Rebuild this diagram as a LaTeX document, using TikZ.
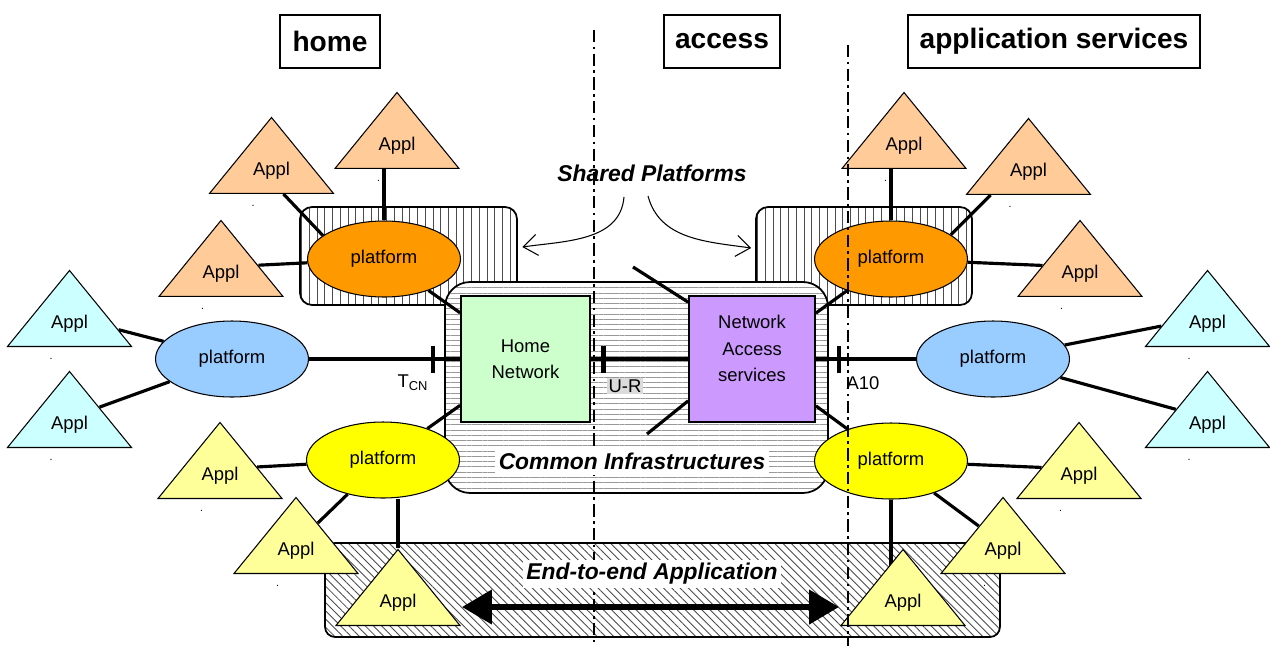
\documentclass[tikz,border=0pt]{standalone}
\usepackage{fontspec}
\setmainfont{Liberation Sans}
\usetikzlibrary{shapes.geometric,patterns.meta,arrows.meta,positioning}
\pgfdeclarelayer{back}
\pgfdeclarelayer{conn}
\pgfsetlayers{back,conn,main}
\definecolor{orangeA}{HTML}{FFCC99}
\definecolor{orangeP}{HTML}{FF9900}
\definecolor{blueA}{HTML}{CCFFFF}
\definecolor{blueP}{HTML}{99CCFF}
\definecolor{yellowA}{HTML}{FFFF99}
\definecolor{yellowP}{HTML}{FFFF00}
\definecolor{homeG}{HTML}{CCFFCC}
\definecolor{accessV}{HTML}{CC99FF}
\tikzset{
  appl/.style={isosceles triangle, shape border rotate=90, isosceles triangle stretches,
    draw, line width=0.6pt, fill=#1, inner sep=0pt, minimum width=2.48cm, minimum height=1.52cm,
    anchor=south, label={[appltxt]south:Appl}, label={[appldot]south:.}},
  appltxt/.style={anchor=center, yshift=0.46cm, font=\fontsize{10.5}{12}\selectfont},
  appldot/.style={anchor=base, xshift=-0.37cm, yshift=-0.24cm, font=\fontsize{6}{6}\selectfont},
  platform/.style={ellipse, draw, line width=0.6pt, fill=#1, inner sep=0pt,
    minimum width=3.06cm, minimum height=1.52cm, font=\fontsize{10.5}{12}\selectfont},
  netbox/.style={draw, line width=1pt, fill=#1, align=center, inner sep=0pt,
    font=\fontsize{10.5}{15}\selectfont},
  hdr/.style={draw, line width=1pt, inner sep=0pt, minimum height=1.06cm,
    font=\fontsize{16}{19}\selectfont\bfseries},
  bigital/.style={font=\fontsize{13}{15}\selectfont\bfseries\itshape},
  iflbl/.style={font=\fontsize{10.5}{12}\selectfont},
  link/.style={line width=1.8pt},
  tickmark/.style={fill=black, inner sep=0pt, minimum width=2.6pt, minimum height=0.54cm},
  vhatch/.style={draw, line width=1pt, rounded corners=0.24cm, inner sep=0pt,
    pattern={Lines[angle=90, distance=4.4pt, line width=0.4pt]}, pattern color=black!70},
  hhatch/.style={draw, line width=1pt, rounded corners=0.5cm, inner sep=0pt, preaction={fill=white},
    pattern={Lines[angle=0, distance=3pt, line width=0.35pt]}, pattern color=black!40},
  dhatch/.style={draw, line width=1pt, rounded corners=0.2cm, inner sep=0pt, preaction={fill=white},
    pattern={Lines[angle=-45, distance=3.3pt, line width=0.5pt]}, pattern color=black!70},
  sepline/.style={line width=0.8pt, dash pattern=on 7pt off 2.5pt on 1.5pt off 2.5pt},
  sparrow/.style={line width=0.6pt, -{Straight Barb[length=8pt, width=12pt]}},
  bigarrow/.style={line width=3.4pt, {Triangle[length=17pt, width=19pt]}-{Triangle[length=17pt, width=19pt]}}
}
\begin{document}
\begin{tikzpicture}[x=0.02cm, y=-0.02cm]
\useasboundingbox (0,0) rectangle (1270,646);

% domains
\node[hdr, minimum width=2cm] (home) at (330,41.5) {home};
\node[hdr, minimum width=2.32cm] (access) at (722,41.5) {access};
\node[hdr, minimum width=5.84cm] (appsvc) at (1054,41.5) {application services};

% hatched areas
\begin{pgfonlayer}{back}
\node[vhatch, minimum width=4.34cm, minimum height=1.96cm] (shl) at (408.5,256) {};
\node[vhatch, minimum width=4.32cm, minimum height=1.96cm] (shr) at (864,256) {};
\node[hhatch, minimum width=7.66cm, minimum height=4.22cm] (ci) at (636.5,387.5) {};
\node[dhatch, minimum width=13.5cm, minimum height=1.88cm] (e2e) at (662.5,590) {};
\end{pgfonlayer}

% networks
\node[netbox=homeG, minimum width=2.58cm, minimum height=2.52cm] (hn) at (525.5,359) {Home\\Network};
\node[netbox=accessV, minimum width=2.52cm, minimum height=2.52cm, text depth=0.42cm] (nas) at (752,359) {Network\\Access\\services};

% platforms
\node[platform=orangeP] (po1) at (384,259) {platform};
\node[platform=orangeP] (po2) at (891,259) {platform};
\node[platform=blueP] (pb1) at (232,359) {platform};
\node[platform=blueP] (pb2) at (993,359) {platform};
\node[platform=yellowP] (py1) at (383,460) {platform};
\node[platform=yellowP] (py2) at (891,461) {platform};

% applications
\node[appl=orangeA] (a1) at (271.5,194) {};
\node[appl=orangeA] (a2) at (397,169) {};
\node[appl=orangeA] (a3) at (221,297) {};
\node[appl=orangeA] (a4) at (904,169) {};
\node[appl=orangeA] (a5) at (1028.5,195) {};
\node[appl=orangeA] (a6) at (1080,297) {};
\node[appl=blueA] (b1) at (69.5,347) {};
\node[appl=blueA] (b2) at (69.5,448) {};
\node[appl=blueA] (b3) at (1207.5,347) {};
\node[appl=blueA] (b4) at (1207.5,448) {};
\node[appl=yellowA] (y1) at (220,499) {};
\node[appl=yellowA] (y2) at (296,574) {};
\node[appl=yellowA] (y3) at (398,626) {};
\node[appl=yellowA] (y4) at (1079,499) {};
\node[appl=yellowA] (y5) at (1003,574) {};
\node[appl=yellowA] (y6) at (903,626) {};

\coordinate (stubA) at (633,267);
\coordinate (stubB) at (647,434);

% links
\begin{pgfonlayer}{conn}
\draw[link] (po1.159) -- ([xshift=.24cm]a1.south);
\draw[link] (po1.north) -- (po1.north |- a2.south);
\draw[link] (po1) -- (a3);
\draw[link] (po1) -- (hn);
\draw[link] (po2.north) -- (po2.north |- a4.south);
\draw[link] (po2.22) -- ([xshift=-.76cm]a5.south);
\draw[link] (po2) -- (a6);
\draw[link] (po2) -- (nas);
\draw[link] (pb1) -- (b1);
\draw[link] (pb1) -- (b2);
\draw[link] (pb2) -- (b3);
\draw[link] (pb2) -- (b4);
\draw[link] (pb1) -- node[tickmark, pos=.82] (tk1) {} (hn);
\draw[link] (hn) -- node[tickmark, pos=.13] (tk2) {} (nas);
\draw[link] (nas) -- node[tickmark, pos=.23] (tk3) {} (pb2);
\draw[link] ([yshift=-.14cm]nas.north west) -- (stubA);
\draw[link] ([yshift=.44cm]nas.south west) -- (stubB);
\draw[link] (py1) -- (hn);
\draw[link] (py1) -- (y1);
\draw[link] (py1) -- (y2);
\draw[link] (py1.south -| y3.north) -- (y3.north);
\draw[link] (py2) -- (nas);
\draw[link] (py2) -- (y4);
\draw[link] (py2) -- (y5);
\draw[link] (py2.south) -- (py2.south |- y6.west);
\end{pgfonlayer}

% domain borders
\draw[sepline] (594,30) -- (594,646);
\draw[sepline] (848,45) -- (848,646);

\node[iflbl] (tcn) at (413,383) {T\textsubscript{CN}};
\node[iflbl, fill=black!14, inner sep=1pt] (ur) at (625,386) {U-R};
\node[iflbl] (a10) at (863,383) {A10};

\node[bigital, fill=white, inner xsep=2pt, inner ysep=3pt] (citext) at (632,461) {Common Infrastructures};
\node[bigital, fill=white, inner sep=2pt] (e2etext) at (652,574) {End-to-end Application};
\node[bigital] (sp) at (652,173) {Shared Platforms};

\draw[sparrow] ([xshift=-.56cm,yshift=-.48cm]sp.center) to[out=-95, in=8] ([xshift=.1cm,yshift=.18cm]shl.east);
\draw[sparrow] ([xshift=-.08cm,yshift=-.46cm]sp.center) to[out=-75, in=172] ([xshift=-.08cm,yshift=.16cm]shr.west);
\draw[bigarrow] ([xshift=1.28cm,yshift=.38cm]y3.south) -- ([xshift=-1.28cm,yshift=.38cm]y6.south);
\end{tikzpicture}
\end{document}
